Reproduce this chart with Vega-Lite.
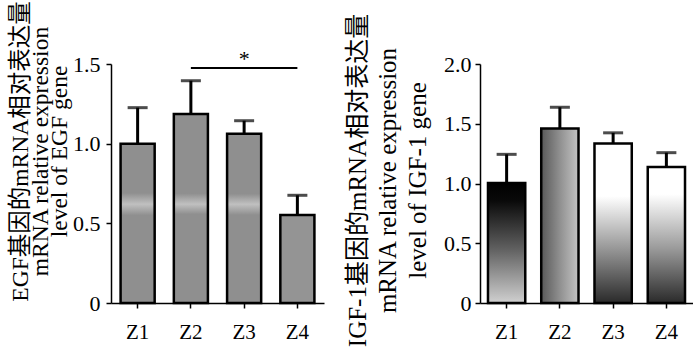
{
  "$schema": "https://vega.github.io/schema/vega-lite/v6.json",
  "background": "white",
  "padding": {"left": 8, "top": 0, "right": 0, "bottom": 5},
  "spacing": 21,
  "config": {
    "view": {"stroke": null},
    "text": {"font": "Liberation Serif"},
    "axis": {
      "grid": false,
      "domainColor": "black",
      "domainWidth": 1.5,
      "tickColor": "black",
      "tickWidth": 1.5,
      "tickSize": 5,
      "labelColor": "black",
      "labelFont": "Liberation Serif, Times New Roman, serif",
      "labelFontSize": 22,
      "titleColor": "black",
      "titleFont": "Liberation Serif, Noto Sans CJK SC",
      "titleFontWeight": "normal"
    }
  },
  "datasets": {
    "egf": [
      {"group": "Z1", "mean": 1.0, "upper": 1.226},
      {"group": "Z2", "mean": 1.186, "upper": 1.395},
      {"group": "Z3", "mean": 1.063, "upper": 1.144},
      {"group": "Z4", "mean": 0.552, "upper": 0.676}
    ],
    "egfsig": [
      {"from": "Z2", "to": "Z4", "mid": "Z3", "y": 1.475, "label": "*"}
    ],
    "igf": [
      {"group": "Z1", "mean": 1.005, "upper": 1.244},
      {"group": "Z2", "mean": 1.46, "upper": 1.638},
      {"group": "Z3", "mean": 1.334, "upper": 1.424},
      {"group": "Z4", "mean": 1.138, "upper": 1.258}
    ]
  },
  "hconcat": [
    {
      "width": 213,
      "height": 239,
      "data": {"name": "egf"},
      "layer": [
        {
          "mark": {"type": "bar", "stroke": "black", "strokeWidth": 2.5},
          "encoding": {
            "x": {
              "field": "group", "type": "nominal",
              "scale": {"domain": ["Z1", "Z2", "Z3", "Z4"], "paddingInner": 0.36, "paddingOuter": 0.18},
              "axis": {"title": null, "labelAngle": 0, "labelPadding": 13, "labelFontSize": 21, "labelFont": "Liberation Serif, Times New Roman, serif"}
            },
            "y": {
              "field": "mean", "type": "quantitative",
              "scale": {"domain": [0, 1.5], "nice": false},
              "axis": {
                "values": [0, 0.5, 1.0, 1.5],
                "labelExpr": "datum.value == 0 ? '0' : format(datum.value, '.1f')",
                "labelFont": "Liberation Serif, Times New Roman, serif",
                "labelPadding": 6,
                "title": ["EGF基因的mRNA相对表达量", "mRNA  relative expression", "level of EGF gene"],
                "titleFont": "Liberation Serif, Noto Sans CJK SC",
                "titleFontSize": 23.5,
                "titleLineHeight": 19.5,
                "titleY": 87,
                "titlePadding": 1
              }
            },
            "fill": {
              "condition": [
                {"test": "datum.group === 'Z1'", "value": {"gradient": "linear", "x1": 0, "y1": 0, "x2": 0, "y2": 1, "stops": [
                  {"offset": 0, "color": "#8f8f8f"}, {"offset": 0.31, "color": "#8f8f8f"}, {"offset": 0.38, "color": "#c0c0c0"}, {"offset": 0.45, "color": "#8f8f8f"}, {"offset": 1, "color": "#8f8f8f"}]}},
                {"test": "datum.group === 'Z2'", "value": {"gradient": "linear", "x1": 0, "y1": 0, "x2": 0, "y2": 1, "stops": [
                  {"offset": 0, "color": "#8f8f8f"}, {"offset": 0.42, "color": "#8f8f8f"}, {"offset": 0.477, "color": "#c0c0c0"}, {"offset": 0.53, "color": "#8f8f8f"}, {"offset": 1, "color": "#8f8f8f"}]}},
                {"test": "datum.group === 'Z3'", "value": {"gradient": "linear", "x1": 0, "y1": 0, "x2": 0, "y2": 1, "stops": [
                  {"offset": 0, "color": "#8f8f8f"}, {"offset": 0.355, "color": "#8f8f8f"}, {"offset": 0.417, "color": "#c0c0c0"}, {"offset": 0.48, "color": "#8f8f8f"}, {"offset": 1, "color": "#8f8f8f"}]}}
              ],
              "value": "#949494"
            }
          }
        },
        {
          "mark": {"type": "rule", "strokeWidth": 3, "color": "black"},
          "encoding": {
            "x": {"field": "group", "type": "nominal"},
            "y": {"field": "mean", "type": "quantitative"},
            "y2": {"field": "upper"}
          }
        },
        {
          "mark": {"type": "tick", "orient": "horizontal", "thickness": 3, "size": 20, "color": "black"},
          "encoding": {
            "x": {"field": "group", "type": "nominal"},
            "y": {"field": "upper", "type": "quantitative"}
          }
        },
        {
          "data": {"name": "egfsig"},
          "mark": {"type": "rule", "strokeWidth": 2, "color": "black"},
          "encoding": {
            "x": {"field": "from", "type": "nominal"},
            "x2": {"field": "to"},
            "y": {"field": "y", "type": "quantitative"}
          }
        },
        {
          "data": {"name": "egfsig"},
          "mark": {"type": "text", "fontSize": 22, "dy": -9, "baseline": "middle", "color": "black", "font": "Liberation Serif, Times New Roman, serif"},
          "encoding": {
            "x": {"field": "mid", "type": "nominal"},
            "y": {"field": "y", "type": "quantitative"},
            "text": {"field": "label"}
          }
        }
      ]
    },
    {
      "width": 213,
      "height": 239,
      "data": {"name": "igf"},
      "layer": [
        {
          "mark": {"type": "bar", "stroke": "black", "strokeWidth": 2.5},
          "encoding": {
            "x": {
              "field": "group", "type": "nominal",
              "scale": {"domain": ["Z1", "Z2", "Z3", "Z4"], "paddingInner": 0.3, "paddingOuter": 0.15},
              "axis": {"title": null, "labelAngle": 0, "labelPadding": 13, "labelFontSize": 21, "labelFont": "Liberation Serif, Times New Roman, serif"}
            },
            "y": {
              "field": "mean", "type": "quantitative",
              "scale": {"domain": [0, 2.0], "nice": false},
              "axis": {
                "values": [0, 0.5, 1.0, 1.5, 2.0],
                "labelExpr": "datum.value == 0 ? '0' : format(datum.value, '.1f')",
                "labelFont": "Liberation Serif, Times New Roman, serif",
                "labelPadding": 4,
                "title": ["IGF-1基因的mRNA相对表达量", "mRNA  relative expression", "level of IGF-1 gene"],
                "titleFont": "Liberation Serif, Noto Sans CJK SC",
                "titleFontSize": 25,
                "titleLineHeight": 30,
                "titleY": 116,
                "titlePadding": 13
              }
            },
            "fill": {
              "condition": [
                {"test": "datum.group === 'Z1'", "value": {"gradient": "linear", "x1": 0, "y1": 0, "x2": 0, "y2": 1, "stops": [
                  {"offset": 0, "color": "#000000"}, {"offset": 0.15, "color": "#0a0a0a"}, {"offset": 0.55, "color": "#606060"}, {"offset": 1, "color": "#d0d0d0"}]}},
                {"test": "datum.group === 'Z2'", "value": {"gradient": "linear", "x1": 0, "y1": 0, "x2": 1, "y2": 0, "stops": [
                  {"offset": 0, "color": "#585858"}, {"offset": 0.5, "color": "#909090"}, {"offset": 1, "color": "#c4c4c4"}]}},
                {"test": "datum.group === 'Z3'", "value": {"gradient": "linear", "x1": 0, "y1": 0, "x2": 0, "y2": 1, "stops": [
                  {"offset": 0, "color": "#ffffff"}, {"offset": 0.33, "color": "#ffffff"}, {"offset": 0.65, "color": "#9a9a9a"}, {"offset": 1, "color": "#2a2a2a"}]}}
              ],
              "value": {"gradient": "linear", "x1": 0, "y1": 0, "x2": 0, "y2": 1, "stops": [
                {"offset": 0, "color": "#ffffff"}, {"offset": 0.2, "color": "#ffffff"}, {"offset": 0.6, "color": "#9a9a9a"}, {"offset": 1, "color": "#2a2a2a"}]}
            }
          }
        },
        {
          "mark": {"type": "rule", "strokeWidth": 3, "color": "black"},
          "encoding": {
            "x": {"field": "group", "type": "nominal"},
            "y": {"field": "mean", "type": "quantitative"},
            "y2": {"field": "upper"}
          }
        },
        {
          "mark": {"type": "tick", "orient": "horizontal", "thickness": 3, "size": 20, "color": "black"},
          "encoding": {
            "x": {"field": "group", "type": "nominal"},
            "y": {"field": "upper", "type": "quantitative"}
          }
        }
      ]
    }
  ]
}
